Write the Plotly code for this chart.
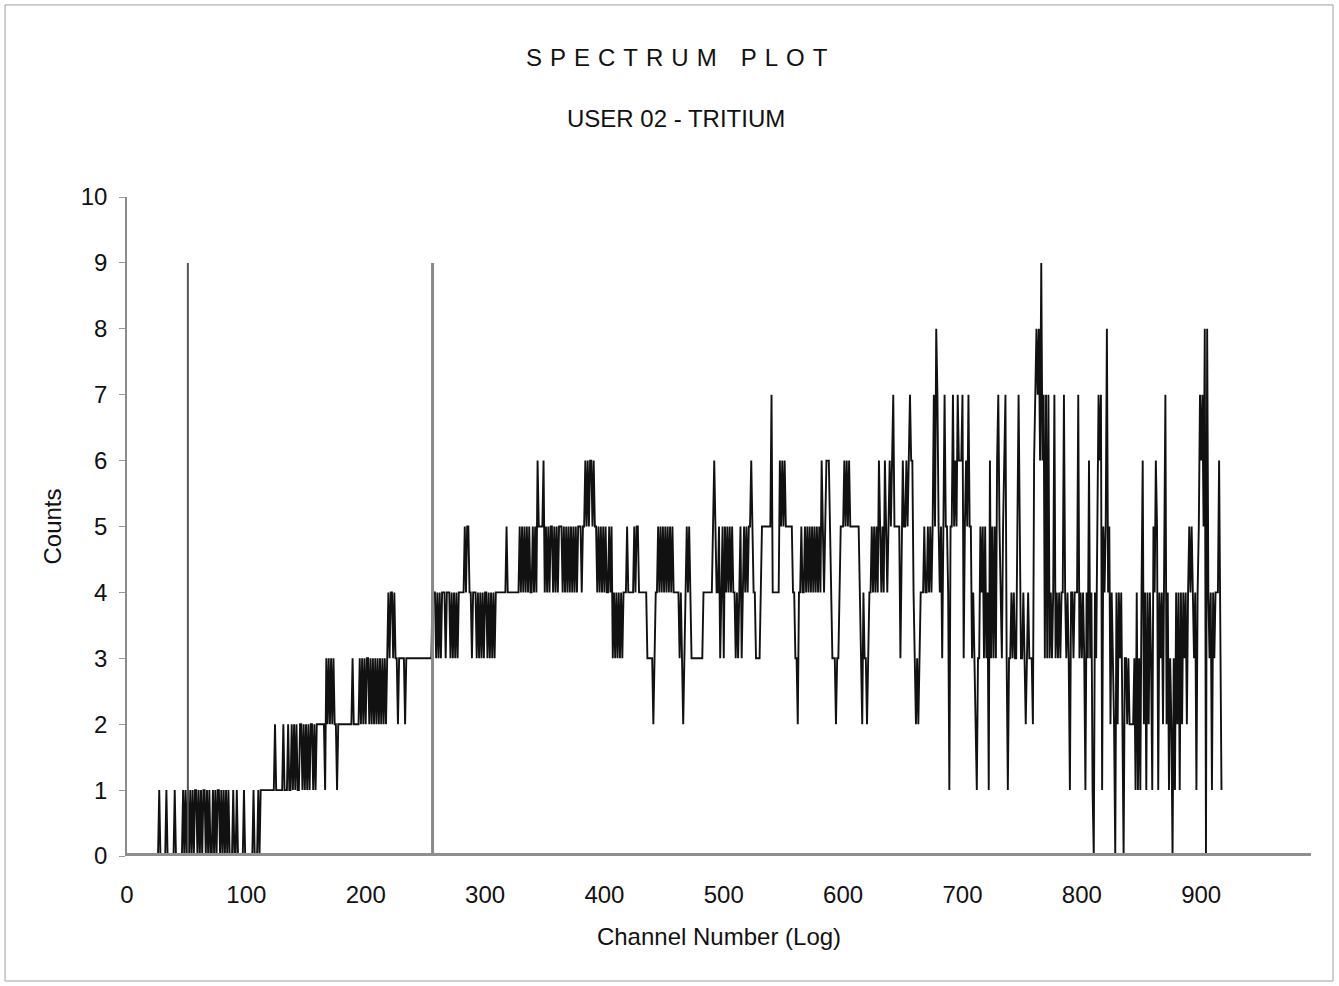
import plotly.graph_objects as go

# counts per channel, 50 channels per block
# token "d*n" = flat run of n channels at d counts, other tokens = one digit per channel
count_blocks = [
    "0*27 1 0*5 1 0*6 1 0*6 1 0 1",
    "010 1010110101 0110101001 0101101010 1010 00 1 00 1 00000 1 0",
    "000000 1 000 1 0 1*12 2 111111 2 111 2 11 212121122121",
    "2121221212 222222 1 32323232 2 1 2*12 3 22222 3 2 3 23",
    "23 32323232323232323 4344343 3 2 33333 2 3*16",
    "333333 444 34343 444 3 444 34343434 4444 5455 44 3 444 3434343",
    "44 34343434 4*8 5 4*10 5454545454 45454 6 5555 6",
    "454545545454 555 454545454545455545 5 656566565 5 454545",
    "4544545 3434343434 44 5 4444 454554 444444 33333 2 3 44 54545",
    "45454545 44444 34323454543 333333333 44444444 565445345",
    "354545454 4343 45345454 5565 44333345 555555 5 7 444444 6 5 6",
    "56555555 443324 454454545454545454 65456665 4333233455",
    "56565655555555 432433234 454545465454654 5656 7 55555 3 5",
    "6556567664 323234 44544 5454 57587 54535 755415575657666",
    "73565755343213 35453534 163535367543567313 3434335753",
    "3432343332 67878696737373434734 3434474343 1 443444 7 3 4",
    "343143634104357671545845 243204243420 33232222314131",
    "46241424315465143424 72413203142414243424 5454341457675808434143444641",
]

# the two region markers
marker_channels = [51, 256]
marker_top = 9

x_ticks = [0, 100, 200, 300, 400, 500, 600, 700, 800, 900]
y_ticks = [0, 1, 2, 3, 4, 5, 6, 7, 8, 9, 10]
x_max = 992


def unpack(block):
    out = []
    for tok in block.split():
        if "*" in tok:
            d, n = tok.split("*")
            out += [int(d)] * int(n)
        else:
            out += [int(c) for c in tok]
    return out


counts = []
for b in count_blocks:
    counts += unpack(b)
channels = list(range(len(counts)))

font = "Liberation Sans, Arial, sans-serif"
ink = "#111111"

fig = go.Figure()
fig.add_trace(go.Scatter(x=channels, y=counts, mode="lines",
                         line=dict(color=ink, width=1.9),
                         showlegend=False, hoverinfo="skip"))
marker_styles = [("#555555", 2), ("#8a8a8a", 3)]
for ch, (col, w) in zip(marker_channels, marker_styles):
    fig.add_trace(go.Scatter(x=[ch, ch], y=[0, marker_top], mode="lines",
                             line=dict(color=col, width=w),
                             showlegend=False, hoverinfo="skip"))

# thick grey baseline along zero
fig.add_shape(type="line", xref="paper", yref="y", x0=0, x1=1, y0=0, y1=0,
              line=dict(color="#8e8e8e", width=6), layer="above")
# outer frame
fig.add_shape(type="rect", xref="paper", yref="paper",
              x0=-0.103, x1=1.0186, y0=-0.1897, y1=1.2914,
              line=dict(color="#a0a0a0", width=1))

sp = "\u2004"
fig.add_annotation(text=sp.join("SPECTRUM") + sp * 3 + sp.join("PLOT"),
                   xref="paper", yref="paper", x=0.4645, y=1.2124, yanchor="middle",
                   showarrow=False, font=dict(family=font, size=24, color=ink))
fig.add_annotation(text="USER 02 - TRITIUM", xref="paper", yref="paper",
                   x=0.4637, y=1.1184, yanchor="middle", showarrow=False,
                   font=dict(family=font, size=24, color=ink))

fig.update_xaxes(range=[0, x_max], tickvals=x_ticks, showgrid=False, zeroline=False,
                 showline=False, ticks="outside", ticklen=17, tickcolor="rgba(0,0,0,0)",
                 tickfont=dict(family=font, size=24, color=ink),
                 title=dict(text="Channel Number (Log)", standoff=21,
                            font=dict(family=font, size=24, color=ink)))
fig.update_yaxes(range=[0, 10], tickvals=y_ticks, showgrid=False, zeroline=False,
                 showline=True, linecolor="#8a8a8a", linewidth=1.5,
                 ticks="outside", ticklen=6, tickcolor="#9a9a9a", ticklabelstandoff=7,
                 tickfont=dict(family=font, size=24, color=ink),
                 title=dict(text="Counts", standoff=12,
                            font=dict(family=font, size=24, color=ink)))

fig.update_layout(width=1339, height=986, plot_bgcolor="white", paper_bgcolor="white",
                  margin=dict(l=127, r=28, t=197, b=130), hovermode=False)

fig.write_html("out.html", config={"displayModeBar": False},
               post_script="document.body.style.margin='0px';")
